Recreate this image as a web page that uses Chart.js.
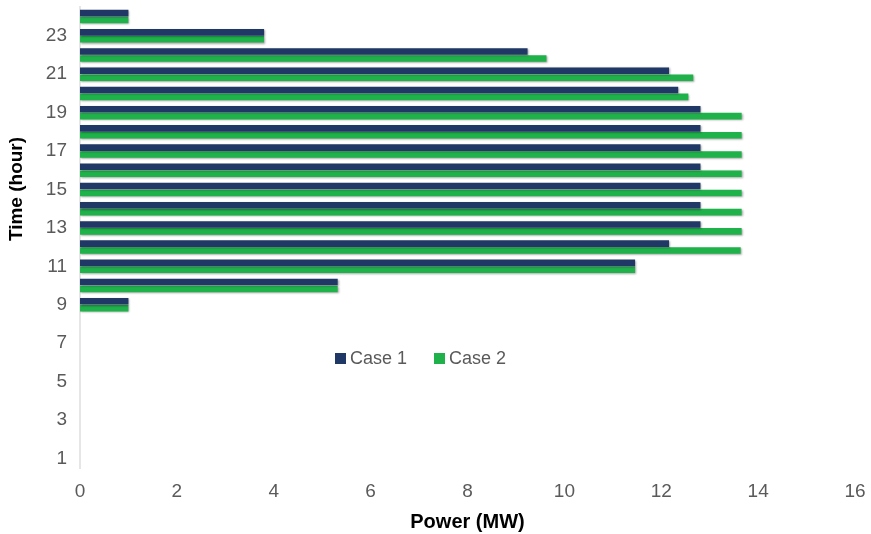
<!DOCTYPE html>
<html>
<head>
<meta charset="utf-8">
<script src="https://cdn.jsdelivr.net/npm/chart.js@4/dist/chart.umd.min.js"></script>
<style>
  html, body { margin: 0; padding: 0; background: #fff; }
  #wrap { width: 871px; height: 534px; }
</style>
</head>
<body>
<div id="wrap"><canvas id="chart"></canvas></div>
<script>
// hours 1..24 (drawn bottom to top)
const hours = [1,2,3,4,5,6,7,8,9,10,11,12,13,14,15,16,17,18,19,20,21,22,23,24];
const case1 = [0,0,0,0,0,0,0,0,1.0,5.32,11.46,12.16,12.81,12.81,12.81,12.81,12.81,12.81,12.81,12.35,12.16,9.24,3.8,1.0];
const case2 = [0,0,0,0,0,0,0,0,1.0,5.32,11.46,13.64,13.66,13.66,13.66,13.66,13.66,13.66,13.66,12.56,12.66,9.63,3.8,1.0];
const seriesNames = ['Case 1', 'Case 2'];
const xTicks = [0,2,4,6,8,10,12,14,16];

const NAVY = '#1f3865';
const GREEN = '#1fb24a';
const TICK_GREY = '#5a5a5a';

// soft shadow under the bars, like the original figure
const barShadow = {
    id: 'barShadow',
    beforeDatasetsDraw(chart) {
        const ctx = chart.ctx;
        ctx.save();
        ctx.shadowColor = 'rgba(0,0,0,0.35)';
        ctx.shadowBlur = 2;
        ctx.shadowOffsetX = 1;
        ctx.shadowOffsetY = 1;
    },
    afterDatasetsDraw(chart) {
        chart.ctx.restore();
    }
};

// legend sits inside the plot, and the y title is placed off-centre
const extras = {
    id: 'extras',
    afterDraw(chart) {
        const ctx = chart.ctx;
        ctx.save();
        ctx.font = '18px "Liberation Sans", Arial, sans-serif';
        ctx.textBaseline = 'middle';
        ctx.textAlign = 'left';
        const items = [
            { x: 335, color: NAVY, text: chart.data.datasets[0].label },
            { x: 434, color: GREEN, text: chart.data.datasets[1].label }
        ];
        items.forEach(it => {
            ctx.fillStyle = it.color;
            ctx.fillRect(it.x, 353, 11, 11);
            ctx.fillStyle = TICK_GREY;
            ctx.fillText(it.text, it.x + 15, 359);
        });

        ctx.translate(17, 189);
        ctx.rotate(-Math.PI / 2);
        ctx.font = 'bold 19px "Liberation Sans", Arial, sans-serif';
        ctx.fillStyle = '#000';
        ctx.textAlign = 'center';
        ctx.fillText('Time (hour)', 0, 0);
        ctx.restore();
    }
};

new Chart(document.getElementById('chart'), {
    type: 'bar',
    data: {
        labels: hours,
        datasets: [
            { label: seriesNames[0], data: case1, backgroundColor: NAVY },
            { label: seriesNames[1], data: case2, backgroundColor: GREEN }
        ]
    },
    options: {
        indexAxis: 'y',
        responsive: true,
        maintainAspectRatio: false,
        animation: false,
        layout: { padding: { top: 7, right: 16, left: 0, bottom: 0 } },
        datasets: { bar: { categoryPercentage: 0.72, barPercentage: 0.95 } },
        plugins: {
            legend: { display: false },
            tooltip: { enabled: false }
        },
        scales: {
            x: {
                min: 0,
                max: 16,
                afterBuildTicks(scale) {
                    scale.ticks = xTicks.map(v => ({ value: v }));
                },
                afterFit(scale) {
                    scale.height = 66;
                    scale.paddingLeft = 0;
                    scale.paddingRight = 0;
                },
                grid: { display: false, drawTicks: false },
                border: { display: false },
                ticks: {
                    color: TICK_GREY,
                    padding: 12,
                    font: { family: '"Liberation Sans", Arial, sans-serif', size: 19 }
                },
                title: {
                    display: true,
                    text: 'Power (MW)',
                    color: '#000',
                    padding: { top: 3, bottom: 0 },
                    font: { family: '"Liberation Sans", Arial, sans-serif', size: 20, weight: 'bold' }
                }
            },
            y: {
                reverse: true,
                afterFit(scale) {
                    scale.width = 80;
                    scale.paddingTop = 0;
                    scale.paddingBottom = 0;
                },
                grid: { display: false, drawTicks: false },
                border: { display: true, color: '#e6e6e6', width: 2 },
                ticks: {
                    autoSkip: false,
                    color: TICK_GREY,
                    padding: 13,
                    font: { family: '"Liberation Sans", Arial, sans-serif', size: 19 },
                    callback(value, index) {
                        const h = hours[index];
                        return h % 2 === 1 ? String(h) : '';
                    }
                }
            }
        }
    },
    plugins: [barShadow, extras]
});
</script>
</body>
</html>
